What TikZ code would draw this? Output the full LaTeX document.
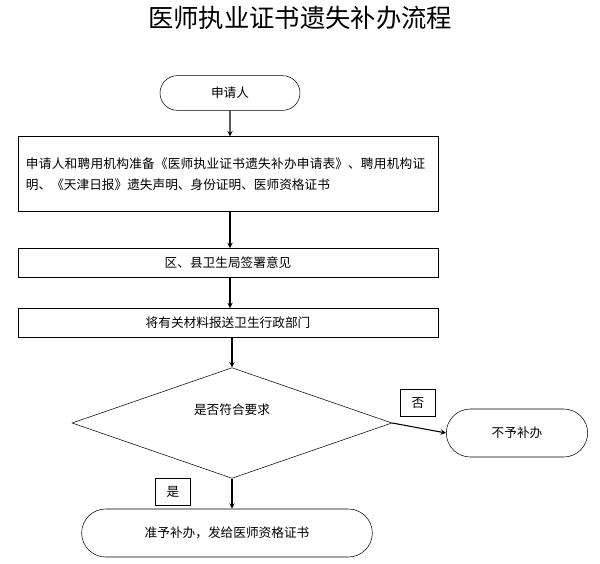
\documentclass[tikz,border=0pt]{standalone}
\usepackage{fontspec}
\newfontfamily\cjk{Noto Sans CJK SC}
\XeTeXlinebreaklocale "zh"
\XeTeXlinebreakskip = 0pt plus 1pt
\usetikzlibrary{shapes.geometric,shapes.misc,positioning}
\begin{document}
\begin{tikzpicture}[x=0.75pt,y=-0.75pt,>=stealth,
  font=\cjk\fontsize{9.5pt}{16pt}\selectfont,
  box/.style={draw,minimum width=315pt,inner sep=0pt},
  term/.style={draw,rounded rectangle,inner sep=0pt},
  tag/.style={draw,minimum width=26pt,minimum height=20pt,inner sep=0pt}]
\useasboundingbox (0,0) rectangle (600,564);

\node (title) at (300,18) {\fontsize{19pt}{22pt}\selectfont 医师执业证书遗失补办流程};

\node [term,minimum width=105pt,minimum height=26pt] (n0) at (230,93) {申请人};

\node [box,minimum height=56pt,text width=303pt,align=left] (n1) at (228,174)
  {申请人和聘用机构准备《医师执业证书遗失补办申请表》、聘用机构证明、《天津日报》遗失声明、身份证明、医师资格证书};
\node [box,minimum height=22pt] (n2) at (228,263) {区、县卫生局签署意见};
\node [box,minimum height=22pt] (n3) at (228,323) {将有关材料报送卫生行政部门};

\node [draw,diamond,aspect=2.9,minimum width=240pt,minimum height=83pt,inner sep=0pt] (n4) at (232,423) {};
\node (q) at (232,410) {是否符合要求};

\node [term,minimum width=106pt,minimum height=36pt] (n5) at (517,433) {不予补办};
\node [term,minimum width=218pt,minimum height=36pt] (n6) at (227,533) {准予补办，发给医师资格证书};

\node [tag] (no) at (418,403) {否};
\node [tag] (yes) at (173,492) {是};

\path [->,thick]
  (n0) edge (n0 |- n1.north)
  (n1.south -| n0) edge (n0 |- n2.north)
  (n2.south -| n0) edge (n0 |- n3.north)
  (n3.south -| n4) edge (n4.north)
  (n4.south) edge (n4.south |- n6.north)
  (n4.east) edge (n5.west);
\end{tikzpicture}
\end{document}
